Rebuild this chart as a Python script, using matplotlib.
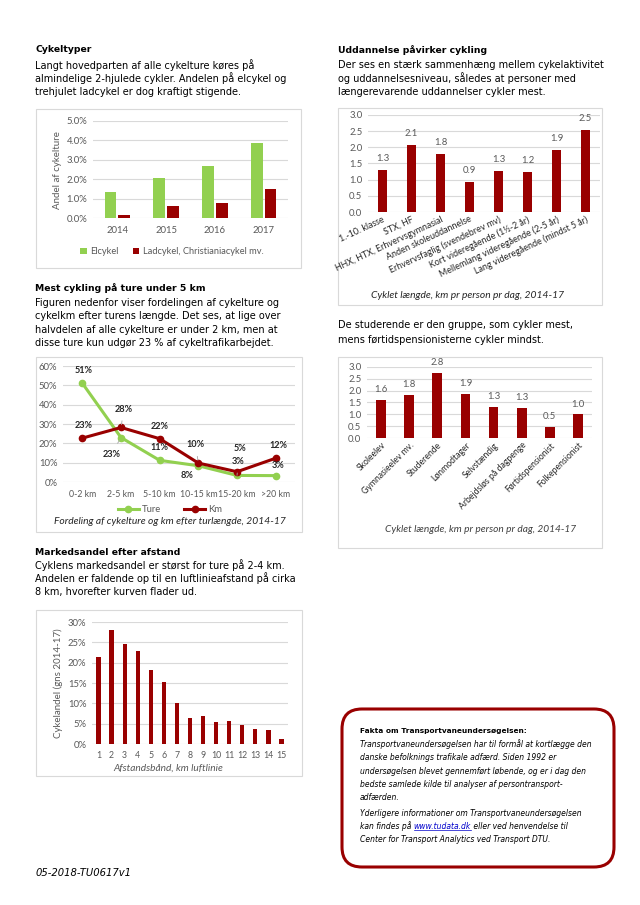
import matplotlib.pyplot as plt
from matplotlib.patches import Rectangle, FancyBboxPatch
import numpy as np

# Farver og skrifttyper
GRON = '#92D050'
ROD = '#990000'
GRAA = '#595959'
CH = ['Lato', 'DejaVu Sans']
plt.rcParams['font.family'] = CH

# Data: cykeltyper
aar = ['2014', '2015', '2016', '2017']
elcykel = [1.35, 2.07, 2.68, 3.87]
ladcykel = [0.18, 0.62, 0.79, 1.50]

# Data: uddannelse
uddannelse = ['1.-10. klasse', 'STX, HF', 'HHX, HTX, Erhvervsgymnasial',
              'Anden skoleuddannelse', 'Erhvervsfaglig (svendebrev mv)',
              'Kort videregående (1½-2 år)', 'Mellemlang videregående (2-5 år)',
              'Lang videregående (mindst 5 år)']
udd_km = [1.29, 2.07, 1.79, 0.94, 1.26, 1.23, 1.91, 2.53]

# Data: fordeling efter turlængde
turlaengde = ['0-2 km', '2-5 km', '5-10 km', '10-15 km', '15-20 km', '>20 km']
ture_pct = [51.1, 23.0, 11.2, 8.4, 3.4, 3.3]
km_pct = [22.7, 28.2, 22.4, 9.8, 5.3, 12.3]

# Data: beskæftigelse
beskaeftigelse = ['Skoleelev', 'Gymnasieelev mv.', 'Studerende', 'Lønmodtager',
                  'Selvstændig', 'Arbejdsløs på dagpenge', 'Førtidspensionist',
                  'Folkepensionist']
besk_km = [1.61, 1.82, 2.76, 1.86, 1.31, 1.28, 0.48, 1.01]

# Data: markedsandel efter afstand
afstandsbaand = ['1', '2', '3', '4', '5', '6', '7', '8', '9', '10', '11', '12', '13', '14', '15']
cykelandel = [21.4, 28.1, 24.7, 22.8, 18.2, 15.2, 10.2, 6.4, 6.8, 5.3, 5.7, 4.7, 3.7, 3.5, 1.2]

#---------------------------------------------------
# Side opsætning (koordinater i pixel)
W, H = 640, 905
fig = plt.figure(figsize=(W / 100, H / 100), dpi=100)
bg = fig.add_axes([0, 0, 1, 1], zorder=-1)
bg.set_xlim(0, W)
bg.set_ylim(H, 0)
bg.axis('off')

TS = 6.8   # akse-tekst
BS = 7.0   # brødtekst


def akse(l, t, r, b):
    return fig.add_axes([l / W, 1 - b / H, (r - l) / W, (b - t) / H])


def ramme(l, t, r, b):
    bg.add_patch(Rectangle((l, t), r - l, b - t, fill=False, ec='#D9D9D9', lw=0.8))


def tekst(x, y, s, size=BS, family='DejaVu Sans', **kw):
    kw.setdefault('ha', 'left')
    return bg.text(x, y, s, va='center', fontsize=size, family=family, **kw)


def stil(ax, ymax, step, fmt, n):
    ticks = np.arange(0, ymax + step / 2, step)
    ax.set_ylim(0, ymax)
    ax.set_yticks(ticks, [fmt.format(v) for v in ticks])
    ax.set_xlim(-0.5, n - 0.5)
    ax.grid(axis='y', color='#D9D9D9', lw=0.8)
    ax.set_axisbelow(True)
    for s in ax.spines.values():
        s.set_visible(False)
    ax.tick_params(length=0, labelsize=TS, labelcolor=GRAA)
    ax.tick_params(axis='y', pad=4)


# Tekster
tekst(35, 50, 'Cykeltyper', size=6.7, weight='bold')
for i, linje in enumerate(['Langt hovedparten af alle cykelture køres på',
                           'almindelige 2-hjulede cykler. Andelen på elcykel og',
                           'trehjulet ladcykel er dog kraftigt stigende.']):
    tekst(35, 65 + i * 13.5, linje)

tekst(338, 50, 'Uddannelse påvirker cykling', size=6.7, weight='bold')
for i, linje in enumerate(['Der ses en stærk sammenhæng mellem cykelaktivitet',
                           'og uddannelsesniveau, således at personer med',
                           'længerevarende uddannelser cykler mest.']):
    tekst(338, 65 + i * 13.5, linje)

tekst(35, 288, 'Mest cykling på ture under 5 km', size=6.7, weight='bold')
for i, linje in enumerate(['Figuren nedenfor viser fordelingen af cykelture og',
                           'cykelkm efter turens længde. Det ses, at lige over',
                           'halvdelen af alle cykelture er under 2 km, men at',
                           'disse ture kun udgør 23 % af cykeltrafikarbejdet.']):
    tekst(35, 303 + i * 13.3, linje)

for i, linje in enumerate(['De studerende er den gruppe, som cykler mest,',
                           'mens førtidspensionisterne cykler mindst.']):
    tekst(338, 325 + i * 15, linje)

tekst(35, 552, 'Markedsandel efter afstand', size=6.7, weight='bold')
for i, linje in enumerate(['Cyklens markedsandel er størst for ture på 2-4 km.',
                           'Andelen er faldende op til en luftlinieafstand på cirka',
                           '8 km, hvorefter kurven flader ud.']):
    tekst(35, 565 + i * 13.5, linje)

tekst(36, 873, '05-2018-TU0617v1', size=7.2, style='italic')

# Rammer om figurer
ramme(36, 109, 301, 268)
ramme(338, 108, 602, 305)
ramme(36, 357, 302, 532)
ramme(338, 357, 602, 548)
ramme(36, 610, 302, 776)

# Figur 1: cykeltyper
ax1 = akse(93, 121, 288, 218)
x = np.arange(len(aar))
ax1.bar(x - 0.14, elcykel, 0.24, color=GRON, label='Elcykel')
ax1.bar(x + 0.14, ladcykel, 0.24, color=ROD, label='Ladcykel, Christianiacykel mv.')
stil(ax1, 5, 1, '{:.1f}%', len(aar))
ax1.set_xticks(x, aar)
ax1.tick_params(axis='x', pad=6)
ax1.legend(loc='center', bbox_to_anchor=(172 / W, 1 - 252 / H), bbox_transform=fig.transFigure,
           ncol=2, frameon=False, fontsize=6.7, handlelength=0.7, handleheight=0.7,
           columnspacing=1.5, handletextpad=0.4, labelcolor=GRAA)
tekst(58, 170, 'Andel af cykelture', size=7.0, family=CH, rotation=90, ha='center', color=GRAA)

# Figur 2: uddannelse
ax2 = akse(368, 115, 600, 212)
x = np.arange(len(uddannelse))
ax2.bar(x, udd_km, 0.33, color=ROD)
stil(ax2, 3, 0.5, '{:.1f}', len(uddannelse))
ax2.set_xticks(x, uddannelse, rotation=25, ha='right', rotation_mode='anchor')
ax2.tick_params(axis='x', pad=2, labelcolor='#262626', labelsize=6.4)
for xi, v in zip(x, udd_km):
    ax2.annotate(f'{v:.1f}', (xi, v), xytext=(0, 5), textcoords='offset points',
                 ha='center', va='bottom', fontsize=TS, color=GRAA)
tekst(468, 295, 'Cyklet længde, km pr person pr dag, 2014-17', size=7.4, family=CH,
      style='italic', ha='center', color='#262626')

# Figur 3: fordeling efter turlængde
ax3 = akse(63, 366, 295, 482)
x = np.arange(len(turlaengde))
ax3.plot(x, ture_pct, color=GRON, lw=2.2, marker='o', ms=4.5, label='Ture')
ax3.plot(x, km_pct, color=ROD, lw=2.2, marker='o', ms=4.5, label='Km')
stil(ax3, 60, 10, '{:.0f}%', len(turlaengde))
ax3.set_xticks(x, turlaengde)
ax3.tick_params(axis='x', pad=6, labelsize=6.3)
ture_off = [(1, 9), (-7, -12), (0, 9), (-8, -7), (1, 10), (2, 7)]
km_off = [(1, 9), (2, 13), (0, 9), (-2, 13), (2, 17), (2, 9)]
ture_leder = [False, True, False, False, True, False]
km_leder = [False, True, False, True, False, False]
for xi, v, off, ld in zip(x, ture_pct, ture_off, ture_leder):
    ax3.annotate(f'{v:.0f}%', (xi, v), xytext=off, textcoords='offset points',
                 ha='center', va='center', fontsize=6.6, weight='bold', color='#262626',
                 arrowprops=dict(arrowstyle='-', color='#A6A6A6', lw=0.6, shrinkA=3, shrinkB=2) if ld else None)
for xi, v, off, ld in zip(x, km_pct, km_off, km_leder):
    ax3.annotate(f'{v:.0f}%', (xi, v), xytext=off, textcoords='offset points',
                 ha='center', va='center', fontsize=6.6, weight='bold', color='#262626',
                 arrowprops=dict(arrowstyle='-', color='#A6A6A6', lw=0.6, shrinkA=3, shrinkB=2) if ld else None)
ax3.legend(loc='center', bbox_to_anchor=(170 / W, 1 - 510 / H), bbox_transform=fig.transFigure,
           ncol=2, frameon=False, fontsize=TS, handlelength=2.2, columnspacing=2.5,
           handletextpad=0.3, labelcolor=GRAA)
tekst(170, 521, 'Fordeling af cykelture og km efter turlængde, 2014-17', size=7.4, family=CH,
      style='italic', ha='center', color='#262626')

# Figur 4: beskæftigelse
ax4 = akse(367, 367, 592, 438)
x = np.arange(len(beskaeftigelse))
ax4.bar(x, besk_km, 0.35, color=ROD)
stil(ax4, 3, 0.5, '{:.1f}', len(beskaeftigelse))
ax4.set_xticks(x, beskaeftigelse, rotation=45, ha='right', rotation_mode='anchor')
ax4.tick_params(axis='x', pad=2, labelcolor='#262626', labelsize=6.2)
for xi, v in zip(x, besk_km):
    ax4.annotate(f'{v:.1f}', (xi, v), xytext=(0, 4), textcoords='offset points',
                 ha='center', va='bottom', fontsize=TS, color=GRAA)
tekst(481, 529, 'Cyklet længde, km pr person pr dag, 2014-17', size=7.3, family=CH,
      style='italic', ha='center', color='#404040')

# Figur 5: markedsandel efter afstand
ax5 = akse(92, 622, 288, 744)
x = np.arange(len(afstandsbaand))
ax5.bar(x, cykelandel, 0.33, color=ROD)
stil(ax5, 30, 5, '{:.0f}%', len(afstandsbaand))
ax5.set_xticks(x, afstandsbaand)
ax5.tick_params(axis='x', pad=5, labelsize=6.3)
tekst(168, 768, 'Afstandsbånd, km luftlinie', size=7.3, family=CH, style='italic',
      ha='center', color=GRAA)
tekst(58, 683, 'Cykelandel (gns 2014-17)', size=7.0, family=CH, rotation=90,
      ha='center', color=GRAA)

# Faktaboks
bg.add_patch(FancyBboxPatch((342, 709), 272, 158, boxstyle='round,pad=0,rounding_size=20',
                            fill=False, ec=ROD, lw=2.2))
tekst(360, 731, 'Fakta om Transportvaneundersøgelsen:', size=5.3, weight='bold')
fakta = ['Transportvaneundersøgelsen har til formål at kortlægge den',
         'danske befolknings trafikale adfærd. Siden 1992 er',
         'undersøgelsen blevet gennemført løbende, og er i dag den',
         'bedste samlede kilde til analyser af persontransport-',
         'adfærden.',
         'Yderligere informationer om Transportvaneundersøgelsen']
fakta_y = [744, 757, 771, 784, 797, 813]
FS = 5.5
for linje, y in zip(fakta, fakta_y):
    tekst(360, y, linje, size=FS, style='italic')

# linje med link
fig.canvas.draw()
r = fig.canvas.get_renderer()
t1 = tekst(360, 826, 'kan findes på ', size=FS, style='italic')
x1 = bg.transData.inverted().transform(t1.get_window_extent(r))[1, 0]
t2 = tekst(x1, 826, 'www.tudata.dk', size=FS, style='italic', color='#0000CC')
x2 = bg.transData.inverted().transform(t2.get_window_extent(r))[1, 0]
bg.plot([x1, x2], [830, 830], color='#0000CC', lw=0.5)
tekst(x2, 826, ' eller ved henvendelse til', size=FS, style='italic')
tekst(360, 839, 'Center for Transport Analytics ved Transport DTU.', size=FS, style='italic')

fig.savefig('out.png', dpi=100)
